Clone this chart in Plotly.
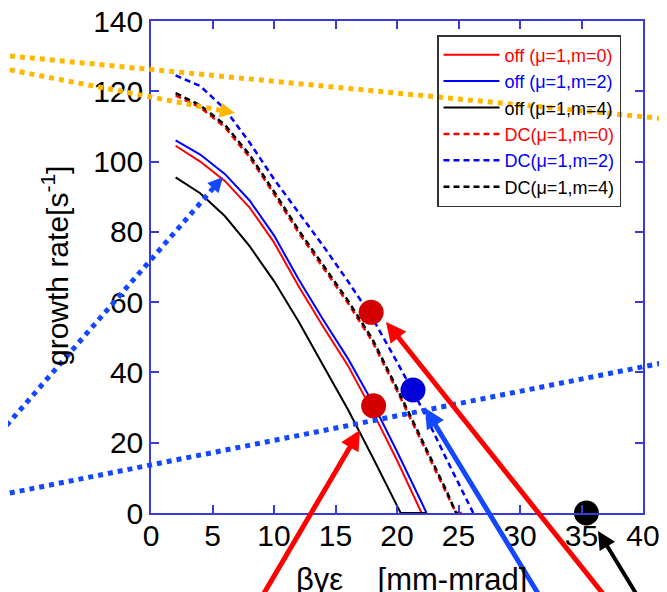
import plotly.graph_objects as go

# beam emittance [mm-mrad] vs growth rate [1/s]
off_x = [2, 4, 6, 8, 10, 12, 14, 16, 18, 20, 22, 22.4]
off_m0 = [104.5, 100, 94.5, 87, 77, 64.5, 53, 42, 29, 15, 0, 0]
off_m2 = [106, 102, 96.5, 89, 79, 66.5, 55, 44, 31.5, 17.5, 3, 0]
off_m4_x = [2, 4, 6, 8, 10, 12, 14, 16, 18, 20, 20.3, 22.4]
off_m4 = [95.5, 91, 84.5, 76, 66, 54.5, 42, 29.5, 16, 2, 0, 0]

dc_x = [2, 4, 6, 8, 10, 12, 14, 16, 18, 20, 22, 24, 24.8, 25.3]
dc_m0 = [118.8, 115.4, 109.8, 101.3, 90.8, 79.8, 69.8, 59.8, 48.8, 34.8, 20.3, 5.8, 0, 0]
dc_m4 = [119.5, 116, 110.5, 102, 91.5, 80.5, 70.5, 60.5, 49.5, 35.5, 21, 6.5, 0, 0]
dc_m2_x = [2, 4, 6, 8, 10, 12, 14, 16, 18, 20, 22, 24, 26, 26.2]
dc_m2 = [124.5, 121.5, 115, 105.5, 95, 85.5, 76, 66, 55.5, 43, 30, 15.5, 1.5, 0]

dot_x = [18.1, 17.9, 21.3, 35.4]
dot_y = [30.5, 57.1, 35.0, 0.0]
dot_colors = ["#d40000", "#d40000", "#0000d8", "#000000"]

x_ticks = [0, 5, 10, 15, 20, 25, 30, 35, 40]
y_ticks = [0, 20, 40, 60, 80, 100, 120, 140]

FONT = "Liberation Sans, Arial, Helvetica, sans-serif"
AXIS_BLUE = "#3a3ad6"

# plot area as seen on screen; the page body adds an 8px offset
L, R, T, B = 151, 643, 21, 513
W, H = 667, 592
PAGE_OFF = 8


def px(x, y):
    return (x - L) / (R - L), (B - y) / (B - T)


def lbl(text, color):
    return "<span style='color:{}'>{}</span>".format(color, text)


fig = go.Figure()
series = [
    (off_x, off_m0, "off (\u03bc=1,m=0)", "red", "solid", 2),
    (off_x, off_m2, "off (\u03bc=1,m=2)", "blue", "solid", 2),
    (off_m4_x, off_m4, "off (\u03bc=1,m=4)", "black", "solid", 2),
    (dc_x, dc_m0, "DC(\u03bc=1,m=0)", "red", "6px,4px", 2.5),
    (dc_m2_x, dc_m2, "DC(\u03bc=1,m=2)", "blue", "6px,4px", 2.5),
    (dc_x, dc_m4, "DC(\u03bc=1,m=4)", "black", "6px,4px", 2.5),
]
for xs, ys, name, color, dash, w in series:
    fig.add_trace(go.Scatter(
        x=xs, y=ys, mode="lines", name=lbl(name, color),
        line=dict(color=color, dash=dash, width=w),
    ))

fig.add_trace(go.Scatter(
    x=dot_x, y=dot_y, mode="markers", showlegend=False, cliponaxis=False,
    marker=dict(size=25, color=dot_colors, line=dict(width=0)),
))

# dotted guide lines (screen pixel coords -> paper)
dotted = [
    ((0, 55), (667, 119), "#ffb800"),
    ((0, 68), (224, 111), "#ffb800"),
    ((0, 433), (216, 185), "#1448ff"),
    ((0, 495), (667, 362), "#1448ff"),
]
for (x0, y0), (x1, y1), color in dotted:
    a, b = px(x0, y0)
    c, d = px(x1, y1)
    fig.add_shape(type="line", xref="paper", yref="paper", x0=a, y0=b, x1=c, y1=d,
                  line=dict(color=color, width=5, dash="5px,5px"), layer="above")

# arrows: tip in screen pixels, tail offset in pixels, color, width, size
arrows = [
    ((235, 113), (-15, -3), "#ffb800", 3, 1.0),
    ((223, 177), (-10, 11), "#1448ff", 3, 1.0),
    ((360, 430), (-100, 186), "#ff0000", 5, 0.8),
    ((386, 322), (222, 297), "#ff0000", 5, 0.8),
    ((425, 408), (117, 202), "#1448ff", 5, 0.8),
    ((598, 531), (42, 79), "#000000", 4, 0.9),
]
for (tx, ty), (ax, ay), color, w, s in arrows:
    a, b = px(tx, ty)
    fig.add_annotation(xref="paper", yref="paper", x=a, y=b, ax=ax, ay=ay,
                       text="", showarrow=True, arrowhead=2, arrowsize=s,
                       arrowwidth=w, arrowcolor=color)

# axis titles
a, b = px(411, 579)
fig.add_annotation(xref="paper", yref="paper", x=a, y=b, showarrow=False,
                   text="\u03b2\u03b3\u03b5&nbsp;&nbsp;&nbsp;&nbsp;[mm-mrad]",
                   font=dict(size=31, color="black", family=FONT),
                   xanchor="center", yanchor="middle")
a, b = px(55, 266)
fig.add_annotation(xref="paper", yref="paper", x=a, y=b, showarrow=False,
                   text="growth rate[s<sup>-1</sup>]", textangle=-90,
                   font=dict(size=30, color="black", family=FONT),
                   xanchor="center", yanchor="middle")

axis_style = dict(
    showgrid=False, zeroline=False, showline=True, linecolor=AXIS_BLUE,
    linewidth=1.5, mirror="ticks", ticks="inside", ticklen=8,
    tickcolor=AXIS_BLUE, tickwidth=1.5, automargin=False,
    ticklabeloverflow="allow",
    tickfont=dict(size=30, color="black", family=FONT),
)
fig.update_xaxes(range=[0, 40], tickvals=x_ticks, ticklabelstandoff=-5, **axis_style)
fig.update_yaxes(range=[0, 140], tickvals=y_ticks, **axis_style)

lx, ly = px(437, 35)
fig.update_layout(
    width=W, height=H,
    margin=dict(l=L - PAGE_OFF, r=W - (R - PAGE_OFF), t=T - PAGE_OFF,
                b=H - (B - PAGE_OFF), autoexpand=False),
    plot_bgcolor="white", paper_bgcolor="white",
    font=dict(family=FONT),
    legend=dict(
        x=lx, y=ly, xanchor="left", yanchor="top",
        bgcolor="rgba(255,255,255,0)", bordercolor="#333333", borderwidth=1.5,
        font=dict(size=18, family=FONT), itemwidth=56, tracegroupgap=0,
    ),
)

fig.write_html("out.html")
